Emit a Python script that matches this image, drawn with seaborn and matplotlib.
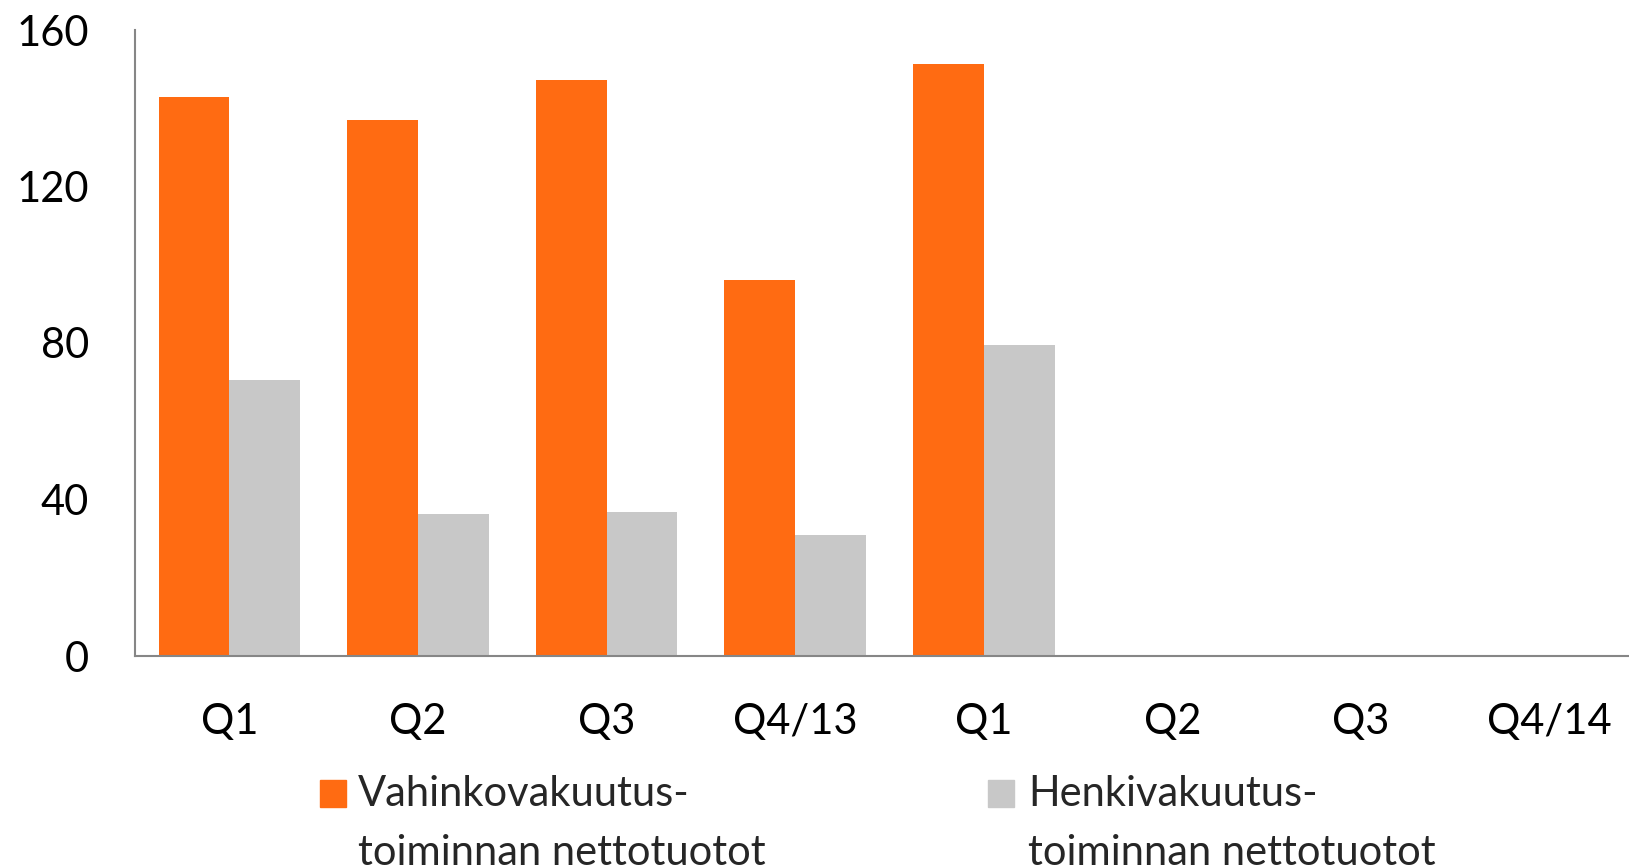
import numpy as np
import pandas as pd
import matplotlib.pyplot as plt
from matplotlib.patches import Rectangle
import seaborn as sns

# quarterly net income, EUR million
quarter_keys = ["2013Q1", "2013Q2", "2013Q3", "2013Q4", "2014Q1", "2014Q2", "2014Q3", "2014Q4"]
quarter_labels = ["Q1", "Q2", "Q3", "Q4/13", "Q1", "Q2", "Q3", "Q4/14"]
series_names = ["Vahinkovakuutus-\ntoiminnan nettotuotot", "Henkivakuutus-\ntoiminnan nettotuotot"]
non_life = [142.8, 137.1, 147.1, 96.2, 151.4, np.nan, np.nan, np.nan]
life = [70.5, 36.2, 36.8, 30.9, 79.5, np.nan, np.nan, np.nan]
y_ticks = [0, 40, 80, 120, 160]

ORANGE = "#FF6B12"
GREY = "#C8C8C8"
AXIS = "#868686"


def main():
    df = pd.DataFrame({
        "quarter": quarter_keys * 2,
        "series": [series_names[0]] * len(quarter_keys) + [series_names[1]] * len(quarter_keys),
        "value": non_life + life,
    }).dropna()

    sns.set_style("white")
    plt.rcParams["font.family"] = ["Lato", "DejaVu Sans"]

    W, H = 1629, 867
    fig = plt.figure(figsize=(W / 100, H / 100), dpi=100)
    ax = fig.add_axes([135 / W, (H - 656) / H, (1644 - 135) / W, (656 - 30) / H])

    sns.barplot(data=df, x="quarter", y="value", hue="series",
                order=quarter_keys, hue_order=series_names,
                palette=[ORANGE, GREY], saturation=1, width=0.75, linewidth=0,
                errorbar=None, legend=False, ax=ax)

    ax.set_xlim(-0.5, len(quarter_keys) - 0.5)
    ax.set_ylim(0, 160)
    ax.set_yticks(y_ticks)
    ax.set_xticks(range(len(quarter_keys)))
    ax.set_xticklabels(quarter_labels)
    ax.set_xlabel("")
    ax.set_ylabel("")
    ax.tick_params(axis="both", length=0, labelsize=30, colors="black")
    ax.tick_params(axis="y", pad=33)
    ax.tick_params(axis="x", pad=34)
    for s in ["top", "right"]:
        ax.spines[s].set_visible(False)
    for s in ["left", "bottom"]:
        ax.spines[s].set_color(AXIS)
        ax.spines[s].set_linewidth(1.5)

    # legend, square beside the first text line
    for colour, name, sq_x, tx_x in [(ORANGE, series_names[0], 320, 358),
                                     (GREY, series_names[1], 988, 1028)]:
        fig.patches.append(Rectangle((sq_x / W, (H - 807) / H), 26 / W, 27 / H,
                                     transform=fig.transFigure, color=colour))
        fig.text(tx_x / W, (H - 775) / H, name, fontsize=30, va="top",
                 ha="left", linespacing=1.68)

    fig.savefig("out.png", dpi=100)


if __name__ == "__main__":
    main()
